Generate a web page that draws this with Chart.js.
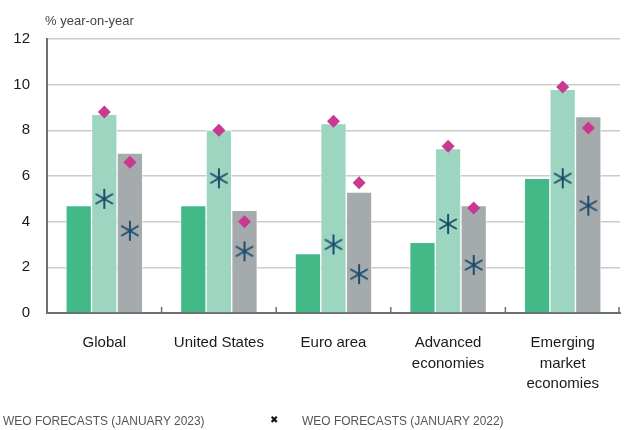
<!DOCTYPE html>
<html>
<head>
<meta charset="utf-8">
<script src="https://cdn.jsdelivr.net/npm/chart.js@4"></script>
<style>
  body { margin: 0; background: #fff; }
  #wrap { position: relative; width: 630px; height: 430px; overflow: hidden; }
  #chart { position: absolute; left: 0; top: 0; }
  .note { position: absolute; font-family: "Liberation Sans", Arial, sans-serif; font-size: 13px; color: #444; }
  .leg { position: absolute; top: 413px; font-family: "Liberation Sans", Arial, sans-serif; font-size: 13px; color: #555;
         transform: scaleX(0.92); transform-origin: left top; white-space: nowrap; }
</style>
</head>
<body>
<div id="wrap">
  <canvas id="chart" width="630" height="430"></canvas>
  <div class="note" style="left:45px; top:13px;">% year-on-year</div>
  <div class="leg" style="left:3px;">WEO FORECASTS (JANUARY 2023)</div>
  <div class="leg" style="left:270px; top:414px; font-family:'DejaVu Sans'; font-size:10px; color:#111; transform:none;">✖</div>
  <div class="leg" style="left:302px;">WEO FORECASTS (JANUARY 2022)</div>
</div>
<script>
// categorias e valores
const regioes = ['Global', 'United States', 'Euro area', ['Advanced', 'economies'], ['Emerging', 'market', 'economies']];
const inflacao2021 = [4.7, 4.7, 2.6, 3.1, 5.9];
const inflacao2022 = [8.7, 8.0, 8.3, 7.2, 9.8];
const inflacao2023 = [7.0, 4.5, 5.3, 4.7, 8.6];
const prevJan2023_2022 = [8.8, 8.0, 8.4, 7.3, 9.9];
const prevJan2023_2023 = [6.6, 4.0, 5.7, 4.6, 8.1];
const prevJan2022_2022 = [5.0, 5.9, 3.0, 3.9, 5.9];
const prevJan2022_2023 = [3.6, 2.7, 1.7, 2.1, 4.7];
const ticksY = [0, 2, 4, 6, 8, 10, 12];

// cada grupo ocupa 67% da categoria, 3 barras
const larguraBarra = 0.67 / 3;

// asterisco de 6 pontas para as previsões de jan/2022
function criaAsterisco() {
  const c = document.createElement('canvas');
  c.width = 22; c.height = 22;
  const g = c.getContext('2d');
  g.strokeStyle = '#1d4f6d';
  g.lineWidth = 2;
  g.translate(11, 11);
  for (let i = 0; i < 3; i++) {
    const a = Math.PI / 2 + i * Math.PI / 3;
    g.beginPath();
    g.moveTo(Math.cos(a) * 10, Math.sin(a) * 10);
    g.lineTo(-Math.cos(a) * 10, -Math.sin(a) * 10);
    g.stroke();
  }
  return c;
}
const asterisco = criaAsterisco();

// valores -> pontos {x, y}, deslocados para a barra certa do grupo
function pontos(valores, desloc) {
  return valores.map((v, i) => ({ x: i + desloc, y: v }));
}

// pequenos traços no eixo x entre categorias
const tracosEixo = {
  id: 'tracosEixo',
  afterDraw(chart) {
    const xp = chart.scales.xp, ctx = chart.ctx;
    const base = chart.chartArea.bottom;
    ctx.save();
    ctx.strokeStyle = '#6d6e71';
    ctx.lineWidth = 1.5;
    for (let i = 1; i <= regioes.length; i++) {
      const px = Math.min(xp.getPixelForValue(i - 0.5), chart.chartArea.right - 1);
      ctx.beginPath();
      ctx.moveTo(px, base);
      ctx.lineTo(px, base - 6);
      ctx.stroke();
    }
    ctx.restore();
  }
};

const barra = (label, data, cor) => ({
  type: 'bar', label, data, xAxisID: 'xp', yAxisID: 'y', backgroundColor: cor,
  borderColor: 'rgba(255,255,255,0.55)', borderWidth: 1, borderSkipped: 'bottom',
  grouped: false, categoryPercentage: 1.0, barPercentage: 1.0, order: 2
});

const marcador = (label, data, estilo, cor, raio) => ({
  type: 'line', label, data, xAxisID: 'xp', yAxisID: 'y', showLine: false,
  pointStyle: estilo, pointRadius: raio, pointHoverRadius: raio,
  pointBackgroundColor: cor, pointBorderColor: cor, pointBorderWidth: 0, order: 1
});

new Chart(document.getElementById('chart').getContext('2d'), {
  type: 'bar',
  data: {
    labels: regioes,
    datasets: [
      barra('2021', pontos(inflacao2021, -larguraBarra), '#43b988'),
      barra('2022', pontos(inflacao2022, 0), '#9dd6c0'),
      barra('2023', pontos(inflacao2023, larguraBarra), '#a5aaac'),
      marcador('WEO Jan 2023 (2022)', pontos(prevJan2023_2022, 0), 'rectRot', '#c8398f', 6.5),
      marcador('WEO Jan 2023 (2023)', pontos(prevJan2023_2023, larguraBarra), 'rectRot', '#c8398f', 6.5),
      marcador('WEO Jan 2022 (2022)', pontos(prevJan2022_2022, 0), asterisco, '#1d4f6d', 10),
      marcador('WEO Jan 2022 (2023)', pontos(prevJan2022_2023, larguraBarra), asterisco, '#1d4f6d', 10),
    ],
  },
  options: {
    responsive: false,
    animation: false,
    layout: { padding: { top: 39, right: 0, bottom: 0, left: 0 } },
    plugins: { legend: { display: false }, tooltip: { enabled: false } },
    scales: {
      x: {
        type: 'category',
        offset: true,
        grid: { display: false },
        border: { color: '#6d6e71', width: 2 },
        ticks: { color: '#1a1a1a', font: { family: 'Liberation Sans', size: 15, lineHeight: 1.35 }, padding: 12, maxRotation: 0, autoSkip: false },
        afterFit: (s) => { s.height = 117; },
      },
      xp: {
        type: 'linear', display: false, offset: false, grid: { offset: false },
        min: -0.5, max: regioes.length - 0.5,
      },
      y: {
        min: 0, max: 12,
        afterBuildTicks: (s) => { s.ticks = ticksY.map((v) => ({ value: v })); },
        grid: { color: '#cccccc', lineWidth: 1.5, drawTicks: false },
        border: { color: '#6d6e71', width: 2 },
        ticks: { color: '#1a1a1a', font: { family: 'Liberation Sans', size: 15 }, padding: 17 },
        afterFit: (s) => { s.width = 47; },
      },
    },
  },
  plugins: [tracosEixo],
});
</script>
</body>
</html>
